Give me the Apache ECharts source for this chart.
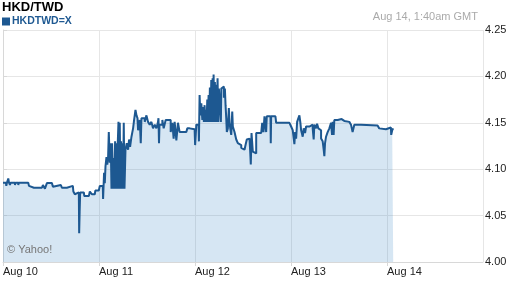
<!DOCTYPE html>
<html><head><meta charset="utf-8">
<script src="https://cdn.jsdelivr.net/npm/echarts@6/dist/echarts.min.js"></script>
<style>html,body{margin:0;padding:0;background:#fff}#c{width:512px;height:288px}</style>
</head><body><div id="c"></div>
<script>
// hours since Aug 10 00:00 GMT, HKD/TWD rate
const tickLabels = ['Aug 10', 'Aug 11', 'Aug 12', 'Aug 13', 'Aug 14'];
const yTicks = [4.00, 4.05, 4.10, 4.15, 4.20, 4.25];
const aug10 = [[0,4.0855],[0.75,4.0855],[0.82,4.082],[1.0,4.0855],[1.32,4.090],[1.5,4.0855],[1.75,4.083],[1.87,4.0855],[2.99,4.083],[3.12,4.0855],[3.82,4.083],[3.94,4.0855],[6.31,4.0855],[6.49,4.082],[6.99,4.080],[7.73,4.078],[8.23,4.080],[9.73,4.080],[9.98,4.083],[10.48,4.079],[10.98,4.085],[12.23,4.085],[12.48,4.081],[12.97,4.083],[14.47,4.083],[14.72,4.080],[15.97,4.080],[16.22,4.082],[17.46,4.082],[17.59,4.076],[17.96,4.073],[18.46,4.075],[18.96,4.075],[19.04,4.031],[19.16,4.054],[19.29,4.075],[20.21,4.075],[20.33,4.071],[21.46,4.071],[21.71,4.076],[22.21,4.073],[22.95,4.073],[23.08,4.077],[23.95,4.077]];
const aug11 = [[24.20,4.082],[24.95,4.082],[25.02,4.068],[25.27,4.096],[25.45,4.085],[25.62,4.103],[25.87,4.113],[26.07,4.105],[26.27,4.112],[26.45,4.140],[26.70,4.107],[26.95,4.128],[27.12,4.079],[27.27,4.128],[27.45,4.128],[27.57,4.079],[27.70,4.112],[27.87,4.079],[28.02,4.130],[28.19,4.079],[28.37,4.128],[28.52,4.079],[28.69,4.128],[28.87,4.151],[29.02,4.079],[29.19,4.150],[29.37,4.079],[29.52,4.130],[29.69,4.079],[29.87,4.128],[30.02,4.079],[30.19,4.150],[30.37,4.079],[30.62,4.121],[30.94,4.128],[31.27,4.121],[31.52,4.132],[31.77,4.124],[32.12,4.135],[32.52,4.144],[32.77,4.153],[33.12,4.164],[33.37,4.158],[33.62,4.155],[33.77,4.142],[34.19,4.153],[34.44,4.128],[34.61,4.155],[35.01,4.155],[35.43,4.151],[35.86,4.158],[36.26,4.151],[36.68,4.148],[37.10,4.151],[37.50,4.144],[37.93,4.148],[38.35,4.144],[38.75,4.151],[38.87,4.155],[39.00,4.128],[39.12,4.148],[39.84,4.153],[40.17,4.144],[40.67,4.153],[41.24,4.154],[41.67,4.153],[41.92,4.140],[42.34,4.150],[42.66,4.133],[42.91,4.151],[43.34,4.131],[43.74,4.150],[44.16,4.140],[45.83,4.140],[46.08,4.144],[46.66,4.143],[47.90,4.143]];
const aug12 = [[48.03,4.126],[48.33,4.148],[48.90,4.148],[48.98,4.130],[49.15,4.180],[49.33,4.158],[49.58,4.171],[49.83,4.153],[49.98,4.167],[50.22,4.151],[50.40,4.169],[50.57,4.151],[50.72,4.164],[50.90,4.151],[51.07,4.175],[51.22,4.151],[51.40,4.180],[51.57,4.151],[51.72,4.188],[51.90,4.151],[52.07,4.196],[52.22,4.151],[52.40,4.198],[52.57,4.151],[52.65,4.202],[52.82,4.151],[52.97,4.194],[53.14,4.151],[53.32,4.191],[53.47,4.151],[53.64,4.198],[53.82,4.151],[53.97,4.187],[54.32,4.189],[54.47,4.151],[54.57,4.187],[54.97,4.189],[55.22,4.177],[55.47,4.187],[55.64,4.169],[55.81,4.155],[55.96,4.140],[56.21,4.144],[56.46,4.166],[56.63,4.150],[56.81,4.144],[57.06,4.137],[57.31,4.162],[57.46,4.146],[57.88,4.140],[58.31,4.132],[58.71,4.128],[59.13,4.126],[59.56,4.123],[59.96,4.121],[60.38,4.120],[60.63,4.126],[60.95,4.132],[61.20,4.133],[61.63,4.133],[61.80,4.119],[61.95,4.105],[62.13,4.139],[62.45,4.119],[62.87,4.117],[63.30,4.139],[64.55,4.139],[64.80,4.150],[65.12,4.140],[65.37,4.157],[65.79,4.140],[65.94,4.157],[66.87,4.157],[66.94,4.128],[67.04,4.157],[68.11,4.157],[68.29,4.150],[71.61,4.150]];
const aug13 = [[72.03,4.146],[72.43,4.142],[72.85,4.127],[73.03,4.140],[73.28,4.133],[73.53,4.151],[73.85,4.155],[74.10,4.158],[74.35,4.150],[74.53,4.142],[74.93,4.135],[75.18,4.144],[75.52,4.139],[75.77,4.146],[76.60,4.148],[77.42,4.144],[77.67,4.132],[77.84,4.148],[78.27,4.144],[78.52,4.149],[78.84,4.144],[79.09,4.142],[79.52,4.133],[79.92,4.130],[80.17,4.121],[80.34,4.114],[80.51,4.128],[80.76,4.135],[81.16,4.140],[81.59,4.144],[82.01,4.150],[82.26,4.137],[82.41,4.151],[82.66,4.137],[82.83,4.153],[83.66,4.154],[84.66,4.156],[84.91,4.152],[85.33,4.151],[86.58,4.150],[87.00,4.148],[87.40,4.140],[87.83,4.148],[89.50,4.149],[89.90,4.147],[93.64,4.147],[94.06,4.144],[94.49,4.143],[95.73,4.143],[96.13,4.145],[96.98,4.145],[97.05,4.137],[97.30,4.142],[97.55,4.144]];

const series = aug10.concat(aug11, aug12, aug13);
const chart = echarts.init(document.getElementById('c'), null, {renderer: 'canvas'});
const FONT = 'Liberation Sans, Arial, sans-serif';
chart.setOption({
  animation: false,
  title: [
    {text: 'HKD/TWD', left: 2, top: 1, padding: 0, textStyle: {fontFamily: FONT, fontSize: 13, fontWeight: 'bold', color: '#000'}},
    {text: 'Aug 14, 1:40am GMT', right: 34, top: 11, padding: 0, textStyle: {fontFamily: FONT, fontSize: 11, fontWeight: 'normal', color: '#aaaaaa'}}
  ],
  legend: {
    left: 2, top: 16, padding: 0, icon: 'rect', itemWidth: 8, itemHeight: 8, itemGap: 4,
    textStyle: {fontFamily: FONT, fontSize: 10.5, fontWeight: 'bold', color: '#1d5891', padding: [0, 0, 0, -3]},
    data: ['HKDTWD=X']
  },
  grid: {left: 3, right: 29, top: 30, bottom: 26},
  xAxis: {
    type: 'value', min: 0, max: 120, interval: 24,
    axisLine: {show: true, lineStyle: {color: '#d8d8d8'}},
    axisTick: {show: true, length: 4, lineStyle: {color: '#d8d8d8'}},
    splitLine: {show: true, lineStyle: {color: '#e6e6e6', width: 1}},
    axisLabel: {
      fontFamily: FONT, fontSize: 11, color: '#222', align: 'left', margin: 4,
      showMaxLabel: false,
      formatter: v => tickLabels[Math.round(v / 24)] || ''
    }
  },
  yAxis: {
    type: 'value', position: 'right', min: 4.00, max: 4.25, interval: 0.05,
    axisLine: {show: true, lineStyle: {color: '#d8d8d8'}},
    axisTick: {show: true, length: 4, lineStyle: {color: '#d8d8d8'}},
    splitLine: {show: true, lineStyle: {color: '#e6e6e6', width: 1}},
    axisLabel: {fontFamily: FONT, fontSize: 11, color: '#222', margin: 2,
      formatter: v => { const t = yTicks.find(k => Math.abs(k - v) < 1e-6); return (t !== undefined ? t : v).toFixed(2); }}
  },
  graphic: [
    {type: 'text', left: 7, top: 244, z: 100, style: {text: '© Yahoo!', fontFamily: FONT, fontSize: 11, fill: '#777'}}
  ],
  series: [{
    name: 'HKDTWD=X', type: 'line', step: 'end', data: series, showSymbol: false, symbol: 'none',
    itemStyle: {color: '#1d5891'},
    lineStyle: {color: '#1d5891', width: 2},
    areaStyle: {color: 'rgba(70,140,200,0.22)', opacity: 1, origin: 'start'}
  }]
});
</script></body></html>
